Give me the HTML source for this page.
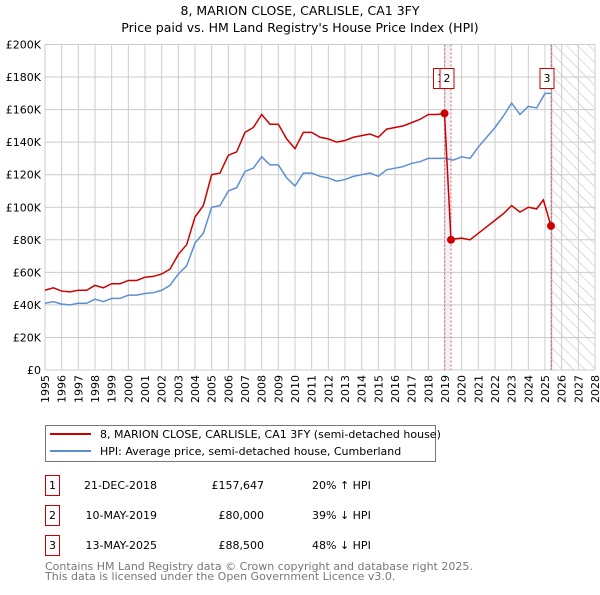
<!DOCTYPE html>
<html><head><meta charset="utf-8"><style>
body{margin:0;background:#fff;}
svg{font-family:"DejaVu Sans","Liberation Sans",sans-serif;}
</style></head><body>
<svg id="chart" width="600" height="590" xmlns="http://www.w3.org/2000/svg">
<defs><pattern id="hatch" width="8" height="8" patternUnits="userSpaceOnUse" patternTransform="rotate(-45)"><line x1="0" y1="0" x2="0" y2="8" stroke="#bbb" stroke-width="1"/></pattern></defs>
<text x="300" y="15" text-anchor="middle" font-size="12.5">8, MARION CLOSE, CARLISLE, CA1 3FY</text>
<text x="300" y="32" text-anchor="middle" font-size="12.5">Price paid vs. HM Land Registry's House Price Index (HPI)</text>
<g id="grid"></g>
<g id="marks"></g>
<g id="axes"></g>
<g>
<rect x="45.5" y="425.5" width="390" height="36" fill="#fff" stroke="#777"/>
<line x1="50" y1="434" x2="91" y2="434" stroke="#cc0000" stroke-width="2"/>
<text x="100" y="438" font-size="11">8, MARION CLOSE, CARLISLE, CA1 3FY (semi-detached house)</text>
<line x1="50" y1="451" x2="91" y2="451" stroke="#5b8fd4" stroke-width="2"/>
<text x="100" y="455" font-size="11">HPI: Average price, semi-detached house, Cumberland</text>
</g>
<g font-size="11">
<rect x="45.5" y="475.5" width="14" height="20" fill="none" stroke="#cc0000"/><text x="52.5" y="489" text-anchor="middle">1</text>
<text x="157" y="489" text-anchor="end">21-DEC-2018</text><text x="264" y="489" text-anchor="end">£157,647</text><text x="312" y="489">20% ↑ HPI</text>
<rect x="45.5" y="505.5" width="14" height="20" fill="none" stroke="#cc0000"/><text x="52.5" y="519" text-anchor="middle">2</text>
<text x="157" y="519" text-anchor="end">10-MAY-2019</text><text x="264" y="519" text-anchor="end">£80,000</text><text x="312" y="519">39% ↓ HPI</text>
<rect x="45.5" y="535.5" width="14" height="20" fill="none" stroke="#cc0000"/><text x="52.5" y="549" text-anchor="middle">3</text>
<text x="157" y="549" text-anchor="end">13-MAY-2025</text><text x="264" y="549" text-anchor="end">£88,500</text><text x="312" y="549">48% ↓ HPI</text>
</g>
<text x="45" y="570" font-size="11" fill="#777">Contains HM Land Registry data © Crown copyright and database right 2025.</text>
<text x="45" y="580" font-size="11" fill="#777">This data is licensed under the Open Government Licence v3.0.</text>
</svg>
<script>
const hpiYears=[1995,1995.5,1996,1996.5,1997,1997.5,1998,1998.5,1999,1999.5,2000,2000.5,2001,2001.5,2002,2002.5,2003,2003.5,2004,2004.5,2005,2005.5,2006,2006.5,2007,2007.5,2008,2008.5,2009,2009.5,2010,2010.5,2011,2011.5,2012,2012.5,2013,2013.5,2014,2014.5,2015,2015.5,2016,2016.5,2017,2017.5,2018,2018.5,2019,2019.5,2020,2020.5,2021,2021.5,2022,2022.5,2023,2023.5,2024,2024.5,2025,2025.4];
const hpiValues=[41,42,40.5,40,41,41,43.5,42,44,44,46,46,47,47.5,49,52,59,64,78,84,100,101,110,112,122,124,131,126,126,118,113,121,121,119,118,116,117,119,120,121,119,123,124,125,127,128,130,130,130,129,131,130,137,143,149,156,164,157,162,161,170,170];
const redYears=[1995,1995.5,1996,1996.5,1997,1997.5,1998,1998.5,1999,1999.5,2000,2000.5,2001,2001.5,2002,2002.5,2003,2003.5,2004,2004.5,2005,2005.5,2006,2006.5,2007,2007.5,2008,2008.5,2009,2009.5,2010,2010.5,2011,2011.5,2012,2012.5,2013,2013.5,2014,2014.5,2015,2015.5,2016,2016.5,2017,2017.5,2018,2018.5,2018.97,2019.36,2019.5,2020,2020.5,2021,2021.5,2022,2022.5,2023,2023.5,2024,2024.5,2024.9,2025.36];
const redValues=[49,50.5,48.5,48,49,49,52,50.5,53,53,55,55,57,57.5,59,62,71,77,94,101,120,121,132,134,146,149,157,151,151,142,136,146,146,143,142,140,141,143,144,145,143,148,149,150,152,154,157,157,157.6,80,80.5,81,80,84,88,92,96,101,97,100,99,104.5,88.5];
const saleYears=[2018.97,2019.36,2025.36];
const saleValues=[157.647,80,88.5];
const saleLabels=["1","2","3"];
const yTicks=[0,20,40,60,80,100,120,140,160,180,200];
const yTickLabels=["£0","£20K","£40K","£60K","£80K","£100K","£120K","£140K","£160K","£180K","£200K"];
const xTicks=[1995,1996,1997,1998,1999,2000,2001,2002,2003,2004,2005,2006,2007,2008,2009,2010,2011,2012,2013,2014,2015,2016,2017,2018,2019,2020,2021,2022,2023,2024,2025,2026,2027,2028];

const L=45,R=595,T=44.5,B=370;
const X=y=>L+(y-1995)/(2028-1995)*(R-L);
const Y=v=>B-v/200*(B-T);
const NS="http://www.w3.org/2000/svg";
function mk(tag,attrs,parent,text){const e=document.createElementNS(NS,tag);for(const k in attrs)e.setAttribute(k,attrs[k]);if(text!==undefined)e.textContent=text;parent.appendChild(e);return e;}
const grid=document.getElementById('grid'),marks=document.getElementById('marks'),axes=document.getElementById('axes');
mk('rect',{x:L,y:T,width:R-L,height:B-T,fill:'#fff'},grid);
const band=mk('rect',{x:X(saleYears[0]),y:T,width:X(saleYears[1])-X(saleYears[0]),height:B-T,fill:'#eef2fb'},grid);


const hx=X(2025.4);
const hr=mk('rect',{x:hx,y:T,width:R-hx,height:B-T,fill:'url(#hatch)'},grid);


yTicks.forEach((t,i)=>{
 mk('line',{x1:L,x2:R,y1:Y(t),y2:Y(t),stroke:'#ccc','stroke-width':1},grid);
 const tx=mk('text',{x:L-4,y:Y(t)+4,'text-anchor':'end','font-size':11},axes,yTickLabels[i]);
 
 
});
xTicks.forEach(t=>{
 mk('line',{x1:X(t),x2:X(t),y1:T,y2:B,stroke:'#ccc','stroke-width':1},grid);
 const tx=mk('text',{x:0,y:0,'text-anchor':'end','font-size':11,transform:'translate('+(X(t)+4)+','+(B+5)+') rotate(-90)'},axes,String(t));
 
 
});
mk('line',{x1:hx,x2:hx,y1:T,y2:B,stroke:'#999','stroke-width':1},grid);
mk('rect',{x:L,y:T,width:R-L,height:B-T,fill:'none',stroke:'#ccc'},grid);
saleYears.forEach(s=>{
 const l=mk('line',{x1:X(s),x2:X(s),y1:T,y2:B,stroke:'#f06060','stroke-width':1,'stroke-dasharray':'2,2'},marks);
 
 
});
const hp=mk('polyline',{points:hpiYears.map((y,i)=>X(y)+','+Y(hpiValues[i])).join(' '),fill:'none',stroke:'#5b8fd4','stroke-width':1.5},marks);


const rp=mk('polyline',{points:redYears.map((y,i)=>X(y)+','+Y(redValues[i])).join(' '),fill:'none',stroke:'#cc0000','stroke-width':1.5},marks);


saleYears.forEach((s,i)=>{
 const c=mk('circle',{cx:X(s),cy:Y(saleValues[i]),r:4,fill:'#cc0000'},marks);
 
 
 const g=mk('g',{},marks);
 
 
 mk('rect',{x:X(s)-11,y:68.5,width:14,height:20,fill:'#fff',stroke:'#cc0000'},g);
 mk('text',{x:X(s)-4,y:82,'text-anchor':'middle','font-size':11},g,saleLabels[i]);
});
</script>
</body></html>
